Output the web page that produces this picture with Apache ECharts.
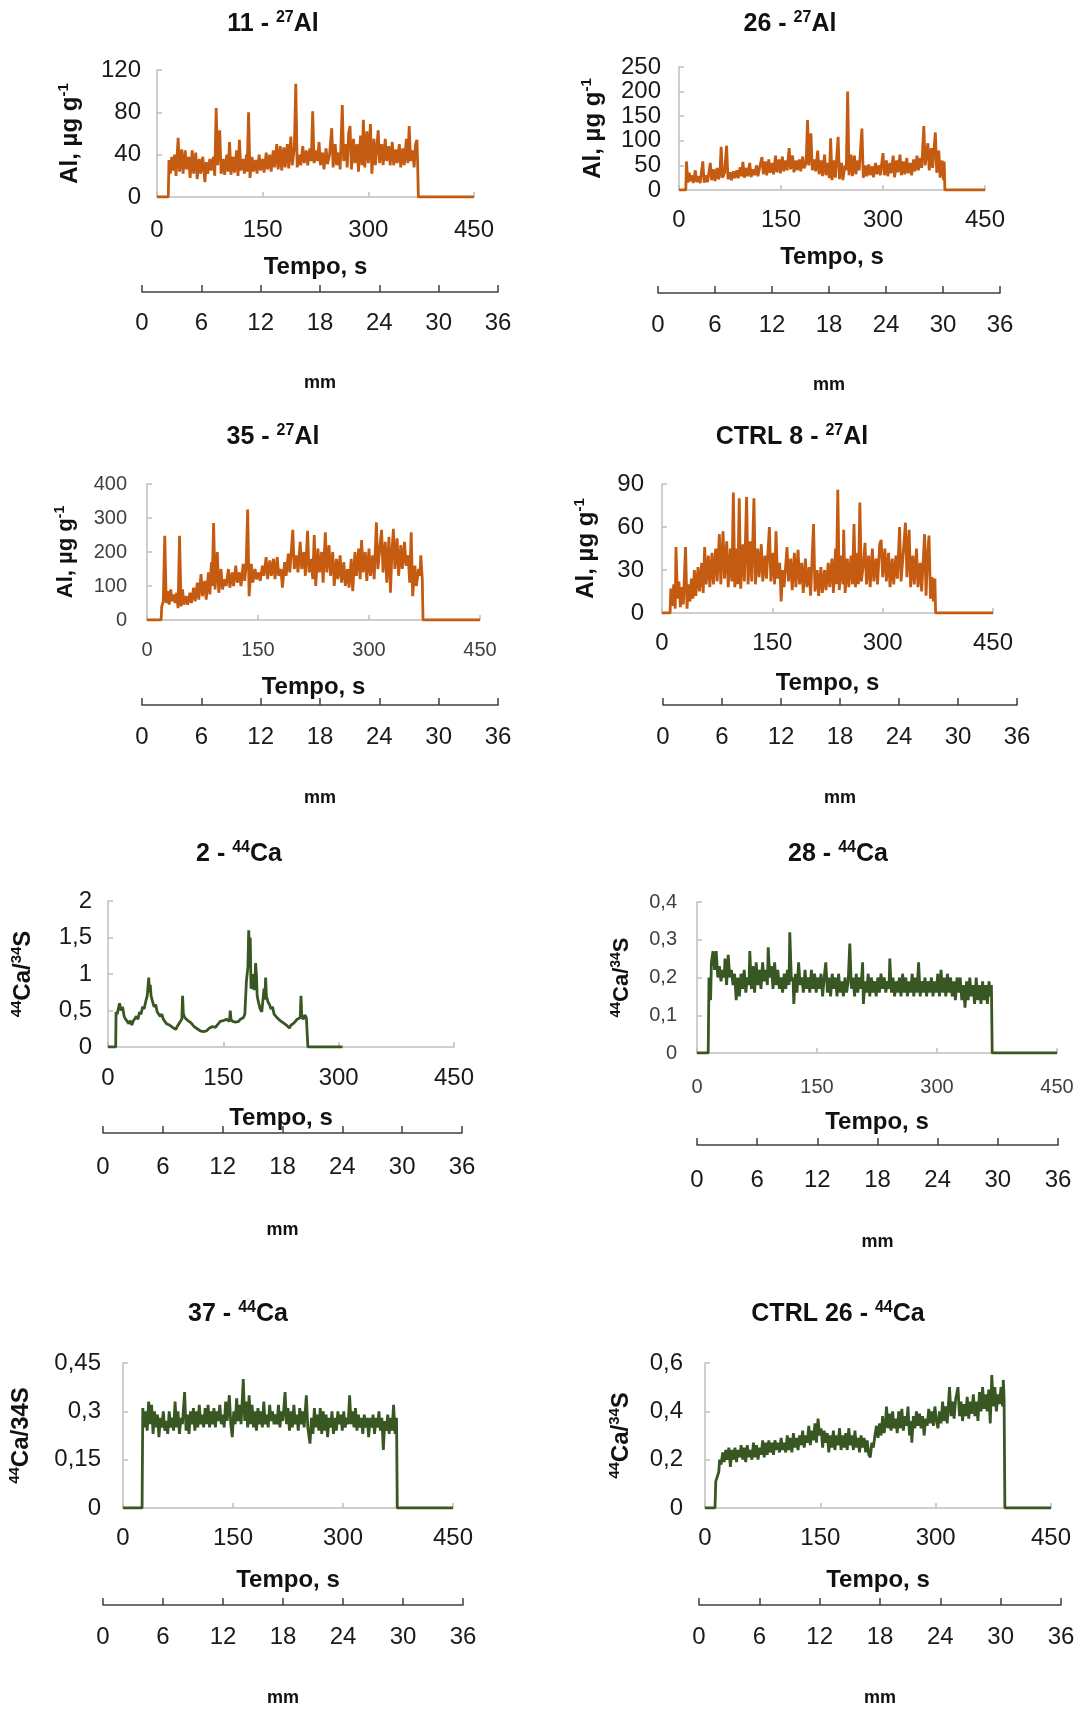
<!DOCTYPE html>
<html>
<head>
<meta charset="utf-8">
<script src="https://cdn.jsdelivr.net/npm/echarts@6/dist/echarts.min.js"></script>
<style>
html, body { margin: 0; background: #fff; }
#chart { width: 1085px; height: 1711px; }
</style>
</head>
<body>
<div id="chart"></div>
<script>
// sinais: [tempo (s), valor]
var al11 = [[0,0],[16,0],[17,35],[19,22],[21,38],[23,25],[25,40],[27,20],[30,56],[32,24],[35,45],[37,22],[40,44],[42,26],[45,38],[47,18],[50,44],[52,22],[55,42],[57,17],[60,36],[62,22],[65,38],[68,14],[70,33],[72,22],[75,36],[77,25],[80,38],[82,20],[84,84],[86,30],[89,63],[91,22],[94,36],[96,21],[99,40],[101,24],[103,52],[105,21],[108,38],[110,23],[113,44],[115,20],[117,54],[119,25],[122,36],[124,22],[127,40],[128,24],[130,80],[132,18],[135,38],[137,24],[140,35],[142,22],[145,40],[147,25],[150,36],[152,23],[155,42],[157,26],[160,40],[162,24],[165,44],[167,28],[170,50],[172,26],[175,48],[177,25],[180,47],[182,28],[185,50],[187,27],[190,57],[192,30],[195,46],[197,107],[199,28],[202,40],[204,30],[207,48],[209,32],[212,44],[214,30],[217,46],[219,34],[221,81],[223,32],[226,44],[228,34],[230,52],[232,30],[235,42],[237,26],[240,46],[242,31],[245,40],[248,65],[250,28],[253,50],[255,30],[258,42],[260,26],[263,87],[265,34],[268,50],[270,28],[272,60],[274,67],[276,26],[279,55],[281,32],[284,50],[286,24],[289,58],[291,30],[293,73],[295,28],[298,62],[300,32],[303,69],[305,22],[308,55],[310,30],[314,63],[316,32],[319,50],[321,30],[324,55],[326,34],[329,48],[331,30],[334,52],[336,30],[339,45],[341,32],[344,50],[346,28],[349,46],[351,30],[354,55],[356,32],[358,67],[360,34],[363,44],[365,28],[367,50],[369,54],[370,32],[371,0],[450,0]];

var al26 = [[0,0],[10,0],[11,58],[13,15],[15,35],[17,18],[19,30],[21,14],[24,40],[26,16],[29,28],[31,14],[35,58],[37,15],[40,30],[42,16],[46,55],[48,20],[51,42],[53,18],[56,45],[58,22],[60,30],[62,88],[64,25],[67,35],[70,90],[72,22],[75,36],[77,20],[80,38],[82,24],[85,40],[87,24],[90,46],[92,28],[94,57],[96,25],[99,45],[101,28],[104,55],[106,26],[109,42],[111,30],[114,50],[116,28],[119,48],[122,67],[124,32],[127,58],[129,30],[132,62],[134,35],[137,55],[139,32],[142,70],[144,36],[147,62],[149,34],[152,68],[154,38],[157,60],[159,40],[162,85],[164,42],[167,70],[169,36],[172,60],[174,40],[177,62],[179,38],[182,68],[184,44],[187,55],[189,142],[191,50],[194,115],[196,40],[199,62],[201,38],[204,80],[206,32],[209,60],[211,28],[214,72],[216,30],[219,55],[221,24],[223,105],[225,20],[228,60],[230,25],[234,108],[236,22],[239,55],[241,20],[244,50],[246,40],[248,200],[250,30],[253,72],[255,28],[258,70],[260,32],[263,60],[265,40],[269,125],[271,25],[274,50],[276,28],[279,52],[281,30],[284,48],[286,26],[289,55],[291,32],[294,50],[296,30],[300,75],[302,30],[305,60],[307,28],[310,55],[312,34],[315,70],[317,26],[320,60],[322,36],[325,72],[327,30],[330,58],[332,32],[335,65],[337,34],[340,55],[342,30],[345,62],[347,38],[350,70],[352,40],[355,65],[357,45],[360,130],[362,50],[366,95],[368,40],[371,85],[373,45],[377,117],[379,35],[382,80],[384,25],[387,60],[389,20],[390,58],[391,0],[450,0]];

var al35 = [[0,0],[19,0],[20,40],[22,55],[24,248],[26,50],[28,85],[30,45],[32,90],[34,55],[36,75],[38,50],[40,80],[42,35],[44,248],[46,40],[48,90],[50,45],[53,70],[55,45],[58,80],[60,50],[63,95],[65,55],[68,110],[70,60],[73,135],[75,70],[78,115],[80,60],[83,140],[85,75],[87,170],[88,100],[90,285],[92,90],[95,200],[97,80],[100,150],[102,90],[105,120],[107,100],[110,150],[112,95],[115,140],[117,100],[120,160],[122,110],[125,140],[127,100],[130,165],[132,115],[134,160],[136,325],[138,70],[141,165],[143,110],[146,150],[148,120],[151,140],[153,115],[156,160],[158,130],[161,185],[163,120],[166,175],[168,130],[171,180],[173,120],[176,185],[178,130],[181,150],[183,95],[186,170],[188,130],[191,195],[193,140],[197,265],[199,150],[202,190],[204,140],[207,230],[209,150],[212,200],[214,130],[217,262],[219,140],[222,180],[224,120],[226,250],[228,100],[231,210],[233,140],[236,200],[238,110],[241,258],[243,140],[246,220],[248,130],[251,200],[253,100],[256,180],[258,120],[261,190],[263,110],[266,170],[268,100],[271,150],[273,95],[276,180],[278,85],[281,200],[283,130],[286,210],[288,120],[290,235],[292,140],[295,200],[297,115],[300,210],[302,130],[305,190],[307,120],[310,287],[312,150],[315,220],[317,265],[319,140],[322,230],[324,110],[327,245],[329,80],[331,200],[333,268],[335,150],[338,240],[340,130],[343,220],[345,150],[348,230],[350,160],[353,190],[355,110],[357,258],[359,70],[362,160],[364,100],[367,150],[369,130],[370,190],[372,120],[373,0],[450,0]];

var al8 = [[0,0],[11,0],[12,17],[14,5],[16,20],[18,3],[19,46],[21,10],[23,22],[25,4],[27,18],[29,6],[32,46],[34,3],[36,20],[38,8],[40,24],[42,10],[44,30],[46,12],[49,32],[51,15],[54,35],[56,14],[58,46],[60,20],[63,40],[65,18],[68,42],[70,20],[73,45],[75,22],[78,55],[80,20],[83,57],[85,24],[88,50],[90,18],[93,45],[95,22],[97,84],[99,18],[102,45],[103,20],[105,80],[107,17],[110,48],[112,22],[115,81],[117,20],[120,50],[122,22],[125,80],[127,20],[130,45],[132,25],[135,48],[137,22],[140,40],[142,24],[146,60],[148,22],[151,42],[153,20],[155,57],[157,24],[160,35],[162,8],[164,30],[166,18],[170,46],[172,22],[175,38],[177,16],[180,42],[182,18],[185,44],[187,20],[190,35],[192,14],[195,38],[197,18],[200,32],[202,12],[206,62],[208,15],[211,30],[213,12],[216,32],[218,14],[221,30],[223,16],[226,35],[228,18],[231,38],[233,14],[236,45],[237,20],[239,86],[241,16],[244,40],[246,20],[247,58],[249,14],[252,38],[254,18],[257,40],[259,20],[261,62],[263,18],[266,42],[267,20],[269,77],[271,22],[274,35],[276,49],[278,20],[281,40],[283,18],[286,45],[288,22],[291,38],[293,20],[296,48],[298,51],[300,25],[303,45],[305,22],[308,42],[310,18],[313,38],[315,20],[318,40],[320,24],[323,60],[325,22],[328,42],[331,63],[333,25],[336,58],[338,18],[341,40],[343,20],[346,45],[348,18],[351,35],[353,15],[357,55],[359,12],[361,40],[363,54],[365,10],[367,25],[369,8],[371,24],[372,0],[450,0]];

var ca2 = [[0,0],[10,0],[10.5,0.48],[12,0.45],[14,0.55],[15,0.6],[17,0.5],[19,0.55],[21,0.42],[23,0.38],[25,0.4],[27,0.32],[29,0.36],[31,0.3],[33,0.36],[35,0.34],[37,0.42],[39,0.38],[41,0.48],[43,0.45],[45,0.55],[47,0.52],[49,0.62],[51,0.7],[52,0.82],[53,0.95],[54,0.75],[55,0.85],[56,0.7],[58,0.62],[60,0.55],[62,0.58],[64,0.48],[66,0.5],[68,0.42],[70,0.45],[72,0.38],[74,0.36],[76,0.32],[78,0.34],[80,0.3],[82,0.3],[84,0.27],[86,0.26],[88,0.24],[90,0.28],[92,0.3],[94,0.35],[96,0.38],[97,0.7],[98,0.45],[100,0.4],[102,0.42],[104,0.36],[106,0.38],[108,0.33],[110,0.32],[112,0.28],[114,0.27],[116,0.25],[118,0.24],[120,0.22],[122,0.2],[124,0.21],[126,0.19],[128,0.22],[130,0.23],[132,0.26],[134,0.25],[136,0.28],[138,0.3],[140,0.27],[142,0.3],[144,0.32],[146,0.35],[148,0.33],[150,0.36],[152,0.34],[154,0.38],[156,0.4],[158,0.35],[159,0.5],[160,0.38],[162,0.35],[164,0.37],[166,0.34],[168,0.36],[170,0.35],[172,0.38],[174,0.36],[176,0.4],[178,0.45],[180,0.9],[182,1.1],[183,1.6],[184,1.3],[185,1.5],[186,0.8],[188,0.85],[189,1.0],[190,0.78],[191,0.9],[192,1.15],[193,1.0],[194,0.7],[196,0.6],[198,0.52],[200,0.48],[202,0.7],[203,0.8],[204,0.65],[205,0.95],[206,0.7],[208,0.62],[210,0.58],[212,0.52],[214,0.55],[216,0.45],[218,0.46],[220,0.4],[222,0.42],[224,0.36],[226,0.38],[228,0.33],[230,0.34],[232,0.3],[234,0.28],[236,0.26],[238,0.3],[240,0.3],[242,0.33],[244,0.34],[246,0.38],[248,0.36],[250,0.4],[251,0.7],[252,0.42],[254,0.38],[256,0.44],[258,0.4],[259,0.42],[260,0],[305,0]];

var ca28 = [[0,0],[14,0],[15,0.2],[17,0.14],[18,0.24],[20,0.27],[22,0.22],[24,0.27],[26,0.2],[28,0.23],[30,0.19],[32,0.22],[34,0.2],[35,0.25],[37,0.18],[39,0.26],[41,0.2],[43,0.22],[45,0.18],[47,0.21],[49,0.14],[51,0.2],[53,0.15],[55,0.21],[57,0.17],[59,0.22],[61,0.16],[63,0.2],[65,0.18],[66,0.27],[68,0.17],[70,0.23],[72,0.16],[74,0.24],[76,0.18],[78,0.22],[80,0.17],[82,0.24],[84,0.19],[86,0.22],[88,0.18],[89,0.28],[91,0.2],[93,0.23],[95,0.17],[97,0.24],[99,0.18],[101,0.22],[103,0.17],[105,0.2],[107,0.16],[109,0.21],[111,0.17],[113,0.22],[115,0.18],[116,0.32],[118,0.19],[120,0.2],[121,0.13],[123,0.21],[125,0.16],[127,0.24],[129,0.18],[131,0.2],[133,0.16],[135,0.22],[137,0.17],[139,0.2],[141,0.16],[143,0.22],[145,0.17],[147,0.21],[149,0.16],[151,0.2],[153,0.17],[155,0.21],[157,0.15],[159,0.2],[161,0.24],[163,0.16],[165,0.2],[167,0.15],[169,0.21],[171,0.17],[173,0.2],[175,0.15],[177,0.21],[179,0.16],[181,0.19],[183,0.15],[185,0.2],[187,0.16],[189,0.19],[191,0.29],[193,0.17],[195,0.2],[197,0.15],[199,0.21],[201,0.16],[203,0.2],[205,0.17],[207,0.24],[208,0.13],[210,0.19],[212,0.16],[214,0.21],[216,0.15],[218,0.2],[220,0.16],[222,0.19],[224,0.15],[226,0.2],[228,0.16],[230,0.21],[232,0.17],[234,0.2],[236,0.16],[238,0.19],[240,0.17],[241,0.25],[243,0.16],[245,0.2],[247,0.15],[249,0.19],[251,0.16],[253,0.2],[255,0.15],[257,0.21],[259,0.16],[261,0.2],[263,0.15],[265,0.19],[267,0.16],[269,0.21],[271,0.15],[273,0.2],[275,0.16],[277,0.24],[279,0.15],[281,0.19],[283,0.16],[285,0.2],[287,0.15],[289,0.19],[291,0.16],[293,0.2],[295,0.15],[297,0.19],[299,0.16],[301,0.21],[303,0.15],[305,0.22],[307,0.16],[309,0.2],[311,0.15],[313,0.21],[315,0.16],[317,0.2],[319,0.15],[321,0.19],[323,0.14],[325,0.2],[327,0.16],[329,0.2],[331,0.14],[333,0.18],[335,0.12],[337,0.19],[339,0.14],[341,0.2],[343,0.15],[345,0.18],[347,0.13],[349,0.2],[351,0.14],[353,0.18],[355,0.13],[357,0.19],[359,0.14],[361,0.18],[363,0.13],[365,0.19],[367,0.15],[368,0.18],[369,0],[450,0]];

var ca37 = [[0,0],[26,0],[27,0.31],[29,0.25],[31,0.3],[33,0.24],[35,0.33],[37,0.26],[39,0.32],[41,0.23],[43,0.3],[45,0.25],[47,0.29],[49,0.22],[51,0.28],[53,0.25],[55,0.3],[57,0.24],[59,0.27],[61,0.23],[63,0.3],[65,0.25],[67,0.28],[69,0.24],[71,0.33],[73,0.25],[75,0.3],[77,0.23],[79,0.28],[81,0.26],[84,0.36],[86,0.24],[88,0.29],[90,0.23],[92,0.3],[94,0.26],[96,0.31],[98,0.24],[100,0.3],[102,0.25],[104,0.32],[106,0.26],[108,0.29],[110,0.25],[112,0.31],[114,0.26],[116,0.32],[118,0.25],[120,0.3],[122,0.26],[124,0.31],[126,0.25],[128,0.3],[130,0.27],[132,0.32],[134,0.26],[136,0.29],[138,0.25],[140,0.33],[142,0.27],[145,0.35],[147,0.26],[149,0.22],[151,0.3],[153,0.26],[155,0.34],[157,0.27],[159,0.32],[161,0.26],[164,0.4],[166,0.27],[168,0.33],[170,0.25],[172,0.35],[174,0.26],[176,0.32],[178,0.25],[180,0.3],[182,0.24],[184,0.31],[186,0.26],[188,0.3],[190,0.25],[192,0.33],[194,0.26],[196,0.29],[198,0.25],[200,0.32],[202,0.27],[204,0.3],[206,0.26],[208,0.29],[210,0.26],[212,0.32],[214,0.25],[216,0.3],[218,0.27],[221,0.36],[223,0.26],[225,0.31],[227,0.24],[229,0.3],[231,0.25],[233,0.32],[235,0.26],[237,0.29],[239,0.24],[241,0.31],[243,0.26],[245,0.3],[247,0.25],[250,0.35],[252,0.25],[255,0.2],[257,0.28],[259,0.23],[261,0.31],[263,0.25],[265,0.29],[267,0.24],[269,0.31],[271,0.23],[273,0.3],[275,0.24],[277,0.29],[279,0.22],[281,0.28],[283,0.25],[285,0.3],[287,0.23],[289,0.28],[291,0.24],[293,0.3],[295,0.26],[297,0.29],[299,0.24],[301,0.3],[303,0.25],[305,0.28],[307,0.26],[309,0.35],[311,0.26],[313,0.3],[315,0.25],[317,0.31],[319,0.24],[321,0.29],[323,0.25],[325,0.28],[327,0.23],[329,0.29],[331,0.25],[333,0.28],[335,0.22],[337,0.28],[339,0.25],[341,0.29],[343,0.23],[345,0.28],[347,0.25],[349,0.3],[351,0.24],[353,0.28],[355,0.18],[357,0.27],[359,0.24],[361,0.29],[363,0.23],[365,0.28],[367,0.24],[369,0.32],[371,0.23],[373,0.28],[374,0],[450,0]];

var ca26 = [[0,0],[13,0],[14,0.11],[16,0.13],[18,0.15],[19,0.2],[21,0.18],[23,0.23],[25,0.19],[27,0.24],[29,0.2],[31,0.25],[33,0.17],[35,0.24],[37,0.2],[39,0.25],[41,0.19],[43,0.24],[45,0.21],[47,0.26],[49,0.2],[51,0.25],[53,0.19],[55,0.26],[57,0.21],[59,0.24],[61,0.2],[63,0.27],[65,0.21],[67,0.26],[69,0.2],[71,0.25],[73,0.22],[75,0.28],[77,0.21],[79,0.27],[81,0.22],[83,0.28],[85,0.23],[87,0.27],[89,0.22],[91,0.28],[93,0.24],[95,0.27],[97,0.23],[99,0.29],[101,0.24],[103,0.27],[105,0.23],[107,0.3],[109,0.24],[111,0.29],[113,0.23],[115,0.31],[117,0.25],[119,0.29],[121,0.24],[123,0.3],[125,0.26],[127,0.32],[129,0.25],[131,0.3],[133,0.27],[135,0.34],[137,0.26],[139,0.32],[141,0.28],[143,0.35],[145,0.27],[147,0.37],[149,0.3],[151,0.33],[153,0.25],[155,0.32],[157,0.27],[159,0.31],[161,0.23],[163,0.3],[165,0.25],[167,0.32],[169,0.24],[171,0.3],[173,0.26],[175,0.33],[177,0.24],[179,0.3],[181,0.25],[183,0.31],[185,0.24],[187,0.33],[189,0.26],[191,0.3],[193,0.24],[195,0.32],[197,0.25],[199,0.29],[201,0.23],[203,0.3],[205,0.25],[207,0.29],[209,0.23],[211,0.28],[213,0.22],[215,0.21],[217,0.27],[219,0.25],[221,0.3],[223,0.34],[225,0.29],[227,0.35],[229,0.3],[231,0.38],[233,0.31],[235,0.36],[236,0.42],[238,0.33],[240,0.39],[242,0.32],[244,0.4],[246,0.33],[248,0.37],[250,0.31],[252,0.4],[254,0.33],[256,0.41],[258,0.32],[260,0.38],[262,0.34],[264,0.42],[266,0.3],[268,0.36],[269,0.27],[271,0.38],[273,0.33],[275,0.4],[277,0.34],[279,0.39],[281,0.33],[283,0.38],[285,0.3],[287,0.37],[289,0.34],[291,0.41],[293,0.35],[295,0.4],[297,0.34],[299,0.42],[301,0.36],[303,0.33],[305,0.4],[307,0.35],[309,0.44],[311,0.36],[313,0.42],[315,0.35],[318,0.5],[320,0.38],[322,0.44],[324,0.37],[326,0.45],[329,0.5],[331,0.38],[333,0.44],[335,0.36],[337,0.43],[339,0.38],[341,0.46],[343,0.37],[345,0.44],[347,0.39],[349,0.47],[351,0.38],[353,0.44],[355,0.36],[357,0.48],[359,0.4],[361,0.5],[363,0.41],[365,0.47],[367,0.4],[369,0.49],[371,0.35],[373,0.55],[375,0.42],[377,0.5],[379,0.4],[381,0.47],[383,0.43],[385,0.5],[387,0.42],[388,0.53],[389,0.45],[390,0],[450,0]];

// títulos e eixos
var titles = ['{b|11 - }{s|27}{b|Al}', '{b|26 - }{s|27}{b|Al}', '{b|35 - }{s|27}{b|Al}', '{b|CTRL 8 - }{s|27}{b|Al}',
              '{b|2 - }{s|44}{b|Ca}', '{b|28 - }{s|44}{b|Ca}', '{b|37 - }{s|44}{b|Ca}', '{b|CTRL 26 - }{s|44}{b|Ca}'];
var yNames = ['{b|Al, µg g}{s|-1}', '{b|Al, µg g}{s|-1}', '{b|Al, µg g}{s|-1}', '{b|Al, µg g}{s|-1}',
              '{s|44}{b|Ca/}{s|34}{b|S}', '{s|44}{b|Ca/}{s|34}{b|S}', '{s|44}{b|Ca/34S}', '{s|44}{b|Ca/}{s|34}{b|S}'];
var yMax = [120, 250, 400, 90, 2, 0.4, 0.45, 0.6];
var yStep = [40, 50, 100, 30, 0.5, 0.1, 0.15, 0.2];
var xMax = 450, xStep = 150;
var mmMax = 36, mmStep = 6;

var ORANGE = '#c55a11', GREEN = '#385723';
var FONT = '"Liberation Sans", Arial, sans-serif';
var series = [al11, al26, al35, al8, ca2, ca28, ca37, ca26];
var colors = [ORANGE, ORANGE, ORANGE, ORANGE, GREEN, GREEN, GREEN, GREEN];

// posições: grid [left, top, width, height], mm [left, width, y], título [x, y]
var layout = [
    { g: [157, 70, 317, 127], m: [142, 356, 292], t: [273, 25], yGap: 73, yM: 16, xM: 21, xGap: 58, mM: 19, mGap: 82, light: false },
    { g: [679, 67, 306, 123], m: [658, 342, 293], t: [790, 25], yGap: 72, yM: 18, xM: 18, xGap: 55, mM: 20, mGap: 83, light: false },
    { g: [147, 484, 333, 136], m: [142, 356, 705], t: [273, 438], yGap: 68, yM: 20, xM: 20, xGap: 55, mM: 20, mGap: 84, light: true },
    { g: [662, 484, 331, 129], m: [663, 354, 705], t: [792, 438], yGap: 62, yM: 18, xM: 18, xGap: 58, mM: 20, mGap: 84, light: false },
    { g: [108, 901, 346, 146], m: [103, 359, 1133], t: [239, 855], yGap: 71, yM: 16, xM: 19, xGap: 59, mM: 22, mGap: 88, light: false },
    { g: [697, 902, 360, 151], m: [697, 361, 1145], t: [838, 855], yGap: 62, yM: 20, xM: 24, xGap: 57, mM: 23, mGap: 88, light: true },
    { g: [123, 1363, 330, 145], m: [103, 360, 1605], t: [238, 1315], yGap: 88, yM: 22, xM: 18, xGap: 60, mM: 20, mGap: 84, light: false },
    { g: [705, 1363, 346, 145], m: [699, 362, 1605], t: [838, 1315], yGap: 70, yM: 22, xM: 18, xGap: 60, mM: 20, mGap: 84, light: false }
];

function richStyle(size) {
    return {
        b: { fontFamily: FONT, fontSize: size, fontWeight: 'bold', color: '#111', lineHeight: size + 4 },
        s: { fontFamily: FONT, fontSize: Math.round(size * 0.62), fontWeight: 'bold', color: '#111',
             lineHeight: Math.round(size * 0.62), verticalAlign: 'top' }
    };
}

function comma(v) {
    return String(+v.toFixed(2)).replace('.', ',');
}

var option = { animation: false, backgroundColor: '#fff', title: [], grid: [], xAxis: [], yAxis: [], series: [] };

layout.forEach(function(L, i) {
    var tickFont = L.light ? 20 : 24;
    var tickColor = L.light ? '#404040' : '#1a1a1a';
    var gridLine = { color: '#bfbfbf', width: 1.5 };

    option.title.push({
        text: titles[i], left: L.t[0], top: L.t[1] - 15, textAlign: 'center', padding: 0,
        textStyle: { rich: richStyle(25) }
    });

    // gráfico principal
    option.grid.push({ left: L.g[0], top: L.g[1], width: L.g[2], height: L.g[3], outerBoundsMode: 'none' });
    // régua em mm
    option.grid.push({ left: L.m[0], top: L.m[2] - 10, width: L.m[1], height: 10, outerBoundsMode: 'none' });

    option.xAxis.push({
        type: 'value', gridIndex: 2 * i, min: 0, max: xMax, interval: xStep,
        axisLine: { show: true, lineStyle: gridLine },
        axisTick: { show: true, inside: true, length: 5, lineStyle: gridLine },
        axisLabel: { margin: L.xM, fontFamily: FONT, fontSize: tickFont, color: tickColor },
        splitLine: { show: false },
        name: 'Tempo, s', nameLocation: 'middle', nameGap: L.xGap,
        nameTextStyle: { fontFamily: FONT, fontSize: 24, fontWeight: 'bold', color: '#111' }
    });
    option.xAxis.push({
        type: 'value', gridIndex: 2 * i + 1, min: 0, max: mmMax, interval: mmStep,
        axisLine: { show: true, lineStyle: { color: '#404040', width: 1.5 } },
        axisTick: { show: true, inside: true, length: 7, lineStyle: { color: '#404040', width: 1.5 } },
        axisLabel: { margin: L.mM, fontFamily: FONT, fontSize: 24, color: '#1a1a1a' },
        splitLine: { show: false },
        name: 'mm', nameLocation: 'middle', nameGap: L.mGap,
        nameTextStyle: { fontFamily: FONT, fontSize: 18, fontWeight: 'bold', color: '#111' }
    });

    option.yAxis.push({
        type: 'value', gridIndex: 2 * i, min: 0, max: yMax[i], interval: yStep[i],
        axisLine: { show: true, lineStyle: gridLine },
        axisTick: { show: true, inside: true, length: 5, lineStyle: gridLine },
        axisLabel: { margin: L.yM, fontFamily: FONT, fontSize: tickFont, color: tickColor, formatter: comma },
        splitLine: { show: false },
        name: yNames[i], nameLocation: 'middle', nameRotate: 90, nameGap: L.yGap,
        nameTextStyle: { rich: richStyle(L.light ? 22 : 24) }
    });
    option.yAxis.push({ type: 'value', gridIndex: 2 * i + 1, min: 0, max: 1, show: false });

    option.series.push({
        type: 'line', xAxisIndex: 2 * i, yAxisIndex: 2 * i, data: series[i],
        showSymbol: false, color: colors[i],
        lineStyle: { width: 2.8, color: colors[i] }
    });
});

var chart = echarts.init(document.getElementById('chart'), null, { renderer: 'canvas' });
chart.setOption(option);
</script>
</body>
</html>
